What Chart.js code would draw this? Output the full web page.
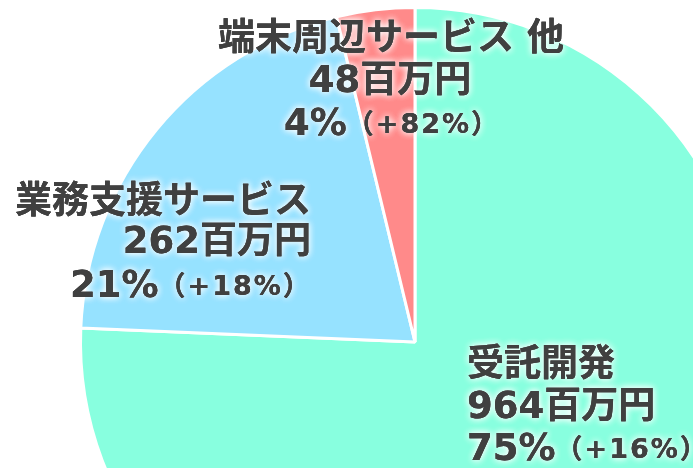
<!DOCTYPE html>
<html>
<head>
<meta charset="utf-8">
<script src="https://cdn.jsdelivr.net/npm/chart.js@4/dist/chart.umd.min.js"></script>
<style>
  html, body { margin: 0; padding: 0; background: #fff; overflow: hidden; width: 693px; height: 468px; }
  #wrap { position: absolute; left: 0; top: 0; width: 830px; height: 700px; }
</style>
</head>
<body>
<div id="wrap"><canvas id="pieSales"></canvas></div>
<script>
const categories = ['受託開発', '業務支援サービス', '端末周辺サービス 他'];
const sales = [964, 262, 48];          // 百万円
const shares = ['75%', '21%', '4%'];
const growth = ['+16%', '+18%', '+82%'];

const sliceColors = ['#88FFDF', '#96E2FF', '#FF8A8A'];

// where each label line sits (page px), per slice
const labelLayout = [
  [[467, 366, 'left'], [467, 408, 'left'], [467, 450, 'left']],
  [[311, 203, 'right'], [311, 243, 'right'], [70, 287, 'left']],
  [[391, 40, 'center'], [390, 82, 'center'], [392, 125, 'center']]
];

const FONT = '"DejaVu Sans", "Noto Sans CJK JP", sans-serif';

function glowText(ctx, txt, x, y) {
  ctx.shadowColor = 'rgba(255,255,255,0.95)';
  ctx.shadowBlur = 7;
  ctx.fillText(txt, x, y);
  ctx.fillText(txt, x, y);
  ctx.shadowBlur = 0;
  ctx.fillText(txt, x, y);
}

const sliceLabels = {
  id: 'sliceLabels',
  afterDatasetsDraw(chart) {
    const ctx = chart.ctx;
    ctx.save();
    ctx.fillStyle = '#404040';
    ctx.textBaseline = 'middle';
    categories.forEach((name, i) => {
      const pos = labelLayout[i];
      const big = 'bold 37px ' + FONT;
      const small = 'bold 27px ' + FONT;
      ctx.letterSpacing = '0px';
      ctx.font = big;
      ctx.textAlign = pos[0][2];
      glowText(ctx, name, pos[0][0], pos[0][1]);
      ctx.textAlign = pos[1][2];
      glowText(ctx, sales[i] + '百万円', pos[1][0], pos[1][1]);
      // line 3: share big + growth small
      const a = shares[i];
      const b = '（' + growth[i] + '）';
      ctx.font = big;
      const wa = ctx.measureText(a).width;
      ctx.font = small;
      ctx.letterSpacing = '2px';
      const wb = ctx.measureText(b).width;
      const total = wa + wb;
      let x0 = pos[2][0];
      if (pos[2][2] === 'center') x0 -= total / 2;
      if (pos[2][2] === 'right') x0 -= total;
      ctx.textAlign = 'left';
      ctx.letterSpacing = '0px';
      ctx.font = big;
      glowText(ctx, a, x0, pos[2][1]);
      ctx.font = small;
      ctx.letterSpacing = '2px';
      glowText(ctx, b, x0 + wa, pos[2][1] + 1);
    });
    ctx.restore();
  }
};

new Chart(document.getElementById('pieSales'), {
  type: 'pie',
  data: {
    labels: categories,
    datasets: [{
      data: sales,
      backgroundColor: sliceColors,
      borderColor: '#ffffff',
      borderWidth: 3
    }]
  },
  options: {
    responsive: true,
    maintainAspectRatio: false,
    animation: false,
    layout: { padding: { left: 79, right: 79, top: 6, bottom: 22 } },
    plugins: {
      legend: { display: false },
      tooltip: { enabled: false }
    }
  },
  plugins: [sliceLabels]
});
</script>
</body>
</html>
